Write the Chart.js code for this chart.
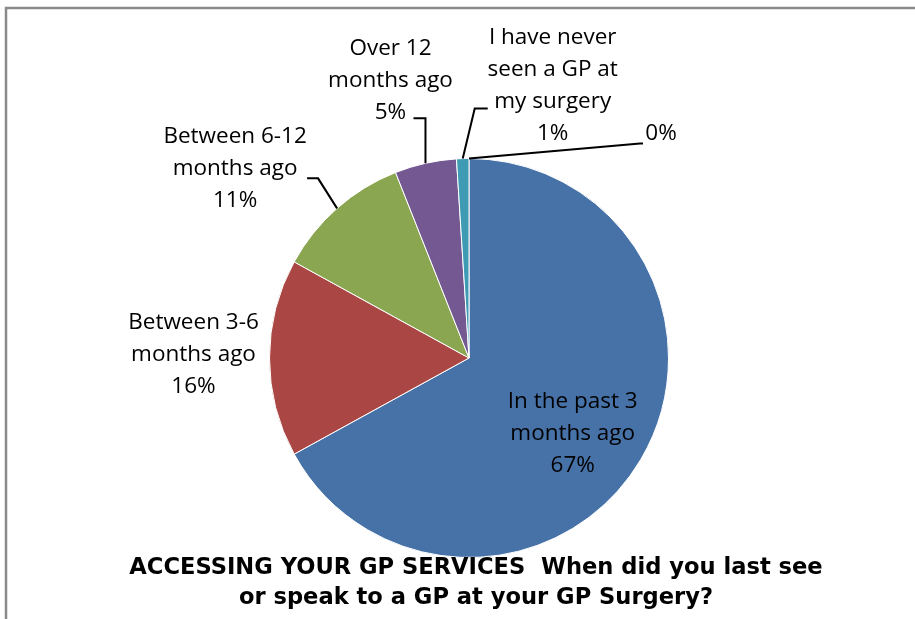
<!DOCTYPE html>
<html>
<head>
<meta charset="utf-8">
<script src="https://cdn.jsdelivr.net/npm/chart.js@4/dist/chart.umd.min.js"></script>
<style>
  body { margin: 0; background: #fff; }
</style>
</head>
<body>
<canvas id="pieChart" width="915" height="619"></canvas>
<script>
// data
const categories = [
  ["In the past 3", "months ago"],
  ["Between 3-6", "months ago"],
  ["Between 6-12", "months ago"],
  ["Over 12", "months ago"],
  ["I have never", "seen a GP at", "my surgery"],
  []
];
const percentages = [67, 16, 11, 5, 1, 0];
const sliceColors = ["#4772A8", "#AA4744", "#8AA650", "#735892", "#3F9BB3", "#DB843D"];
const titleLines = [
  "ACCESSING YOUR GP SERVICES  When did you last see",
  "or speak to a GP at your GP Surgery?"
];

// label placement, relative to the outer middle point of each slice
const labelPlacement = [
  { dx: -68, dy: -26, leader: null },
  { dx: -76, dy: -3, leader: null },
  { dx: -102, dy: -40, leader: [[-19, -30], [-30, -30]] },
  { dx: -35, dy: -83, leader: [[0, -45], [-12, -45]] },
  { dx: 90, dy: -73, leader: [[12, -50], [25, -50]] },
  { dx: 192, dy: -25, leader: [[171, -15], [174, -15]] }
];

const labelFont = '22.5px "Open Sans", sans-serif';
const lineHeight = 32;

const framePlugin = {
  id: "frame",
  beforeDraw(chart) {
    const ctx = chart.ctx;
    ctx.save();
    ctx.strokeStyle = "#8a8a8a";
    ctx.lineWidth = 2.5;
    ctx.beginPath();
    ctx.moveTo(6, 640);
    ctx.lineTo(6, 8);
    ctx.lineTo(920, 8);
    ctx.stroke();
    ctx.restore();
  }
};

const labelPlugin = {
  id: "sliceLabels",
  afterDatasetsDraw(chart) {
    const ctx = chart.ctx;
    const arcs = chart.getDatasetMeta(0).data;
    ctx.save();
    arcs.forEach((arc, i) => {
      const p = arc.getProps(["x", "y", "startAngle", "endAngle", "outerRadius"], true);
      const mid = (p.startAngle + p.endAngle) / 2;
      const ax = p.x + Math.cos(mid) * p.outerRadius;
      const ay = p.y + Math.sin(mid) * p.outerRadius;
      const place = labelPlacement[i];

      if (place.leader) {
        ctx.strokeStyle = "#000";
        ctx.lineWidth = 2;
        ctx.beginPath();
        ctx.moveTo(ax, ay);
        place.leader.forEach(pt => ctx.lineTo(ax + pt[0], ay + pt[1]));
        ctx.stroke();
      }

      const lines = categories[i].concat([percentages[i] + "%"]);
      const cx = ax + place.dx;
      const cy = ay + place.dy;
      ctx.fillStyle = "#000";
      ctx.font = labelFont;
      ctx.textAlign = "center";
      ctx.textBaseline = "middle";
      const top = cy - (lines.length - 1) * lineHeight / 2;
      lines.forEach((line, k) => ctx.fillText(line, cx, top + k * lineHeight));
    });

    // title under the pie
    ctx.font = 'bold 22.6px "DejaVu Sans", sans-serif';
    ctx.fillStyle = "#000";
    ctx.textAlign = "center";
    ctx.textBaseline = "middle";
    titleLines.forEach((line, k) => ctx.fillText(line, 476, 568 + k * 30));
    ctx.restore();
  }
};

new Chart(document.getElementById("pieChart"), {
  type: "pie",
  data: {
    labels: categories,
    datasets: [{
      data: percentages,
      backgroundColor: sliceColors,
      borderColor: "#ffffff",
      borderWidth: 1
    }]
  },
  options: {
    responsive: false,
    animation: false,
    layout: { padding: { top: 158, bottom: 61, left: 100, right: 77 } },
    plugins: {
      legend: { display: false },
      tooltip: { enabled: false }
    }
  },
  plugins: [framePlugin, labelPlugin]
});
</script>
</body>
</html>
